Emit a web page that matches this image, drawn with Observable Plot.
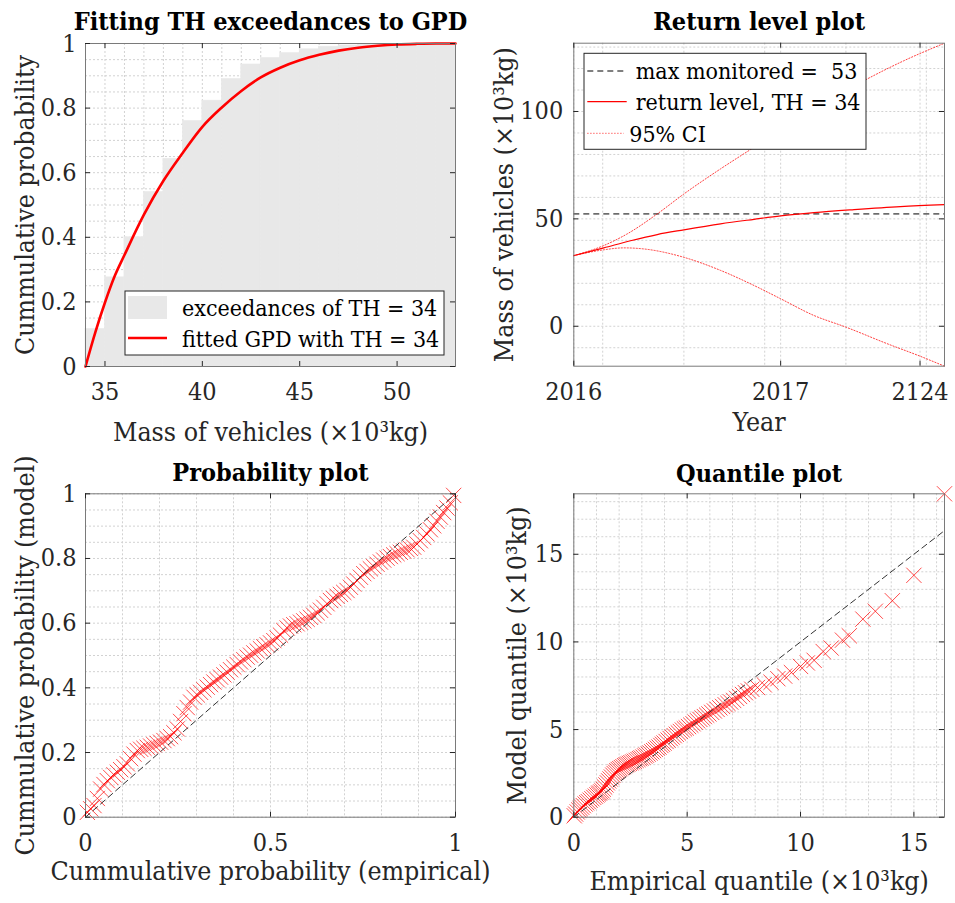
<!DOCTYPE html>
<html><head><meta charset="utf-8">
<script src="https://cdn.jsdelivr.net/npm/d3@7"></script>
<script src="https://cdn.jsdelivr.net/npm/@observablehq/plot@0.6"></script>
<style>
body{margin:0;background:#fff;}
#wrap{position:relative;width:955px;height:903px;overflow:hidden;}
#wrap svg{position:absolute;overflow:visible;}
</style></head><body><div id="wrap"></div>
<script>
// ---------------- Panel 1: exceedances / GPD fit ----------------
const massBinStart = [34,35,36,37,38,39,40,41,42,43,44,45,46,47,48,49,50,51,52];
const ecdfHeight   = [0.116,0.276,0.40,0.54,0.643,0.76,0.823,0.89,0.935,0.955,0.97,0.982,0.99,0.994,0.996,0.998,0.999,1,1];
const gpdMass = [34,34.5,35,35.5,36,37,38,39,40,41,42,43,44,45,46,47,48,49,50,51,52,53];
const gpdProb = [0,0.105,0.198,0.28,0.345,0.47,0.575,0.662,0.742,0.802,0.853,0.895,0.925,0.948,0.965,0.978,0.987,0.993,0.997,0.999,1.0,1.0];
const massTicks = [35,40,45,50];
const probTicks = [0,0.2,0.4,0.6,0.8,1];

// ---------------- Panel 2: return level ----------------
const periodTicks = [0,55.8,93.4];
const periodTickLabels = ["2016","2017","2124"];
const periodGrid = [7.8,29.7,51.5,73.4,95.1];
const levelTicks = [0,50,100];
const maxMonitored = 52.3;
const rlT     = [0,8.1,15.3,22.5,29.7,39.6,48.6,55.8,64.8,75.6,88.1,100];
const rlLevel = [32.9,36.5,39.8,42.7,44.9,47.7,49.8,51.4,52.9,54.3,55.7,56.6];
const ciUpT   = [0,8.1,14.4,22.5,29.7,39.6,48.6,62.1,79.1,89,100];
const ciUp    = [32.9,37.6,43.0,52.3,61.6,73.3,83.3,98.0,115.1,123.6,131.8];
const ciLoT   = [0,8.1,13.5,18.9,29.7,39.6,48.6,55.8,64.8,73.4,84.5,93.5,100];
const ciLo    = [32.9,35.6,36.5,36.0,32.1,26.0,19.0,12.8,5.0,-0.4,-8.1,-14.0,-18.6];

// ---------------- Panel 3: probability plot ----------------
const probEmp = [0.005,0.014,0.023,0.032,0.041,0.050,0.059,0.068,0.077,0.086,
0.095,0.104,0.113,0.122,0.131,0.140,0.149,0.158,0.167,0.176,
0.185,0.194,0.203,0.212,0.221,0.230,0.239,0.248,0.257,0.266,
0.275,0.284,0.293,0.302,0.311,0.320,0.329,0.338,0.347,0.356,
0.365,0.374,0.383,0.392,0.401,0.410,0.419,0.428,0.437,0.446,
0.455,0.464,0.473,0.482,0.491,0.500,0.509,0.518,0.527,0.536,
0.545,0.554,0.563,0.572,0.581,0.590,0.599,0.608,0.617,0.626,
0.635,0.644,0.653,0.662,0.671,0.680,0.689,0.698,0.707,0.716,
0.725,0.734,0.743,0.752,0.761,0.770,0.779,0.788,0.797,0.806,
0.815,0.824,0.833,0.842,0.851,0.860,0.869,0.878,0.887,0.896,
0.905,0.914,0.923,0.932,0.941,0.950,0.959,0.968,0.977,0.986,0.995];
const probModel = [0.015,0.026,0.036,0.058,0.087,0.101,0.113,0.123,0.131,0.139,
0.147,0.156,0.165,0.181,0.195,0.206,0.210,0.213,0.216,0.220,
0.224,0.228,0.232,0.237,0.243,0.249,0.261,0.273,0.296,0.320,
0.339,0.356,0.371,0.378,0.386,0.394,0.402,0.410,0.418,0.425,
0.433,0.440,0.448,0.456,0.464,0.472,0.480,0.487,0.495,0.501,
0.508,0.514,0.521,0.527,0.533,0.539,0.546,0.554,0.563,0.577,
0.585,0.591,0.595,0.598,0.603,0.607,0.612,0.618,0.624,0.632,
0.640,0.649,0.660,0.670,0.676,0.683,0.689,0.695,0.701,0.711,
0.721,0.732,0.742,0.753,0.760,0.768,0.775,0.782,0.789,0.795,
0.801,0.806,0.811,0.815,0.819,0.823,0.827,0.831,0.835,0.845,
0.855,0.865,0.876,0.889,0.901,0.915,0.928,0.942,0.956,0.972,0.995];
const probXTicks = [0,0.5,1];

// ---------------- Panel 4: quantile plot ----------------
const empQ = [0.02,0.08,0.15,0.22,0.28,0.35,0.42,0.5,0.57,0.64,0.72,0.8,0.88,0.95,
1.02,1.08,1.13,1.19,1.25,1.3,1.36,1.42,1.48,1.54,1.6,1.66,1.72,1.78,1.84,1.9,1.96,
2.03,2.1,2.17,2.24,2.31,2.38,2.45,2.52,2.6,2.67,2.75,2.83,2.9,2.97,
3.05,3.13,3.2,3.28,3.36,3.44,3.52,3.6,3.68,3.76,3.84,3.91,3.98,
4.07,4.16,4.25,4.34,4.43,4.52,4.61,4.7,4.79,4.88,4.96,
5.06,5.16,5.26,5.36,5.46,5.56,5.66,5.76,5.86,5.96,
6.08,6.2,6.32,6.44,6.56,6.68,6.8,6.92,
7.05,7.18,7.31,7.44,7.57,7.7,7.85,
8.1,8.4,8.7,9.0,9.3,9.6,10.0,10.3,10.6,11.0,11.35,11.85,12.15,12.75,13.3,14.05,15.0,16.35];
const modelQ = [0.08,0.18,0.3,0.41,0.49,0.57,0.66,0.75,0.82,0.89,0.97,1.05,1.13,1.2,
1.27,1.33,1.38,1.44,1.5,1.6,1.72,1.84,1.96,2.07,2.18,2.29,2.4,2.49,2.57,2.65,2.72,
2.77,2.83,2.88,2.94,2.99,3.03,3.07,3.11,3.15,3.19,3.24,3.29,3.34,3.38,
3.43,3.49,3.54,3.6,3.66,3.73,3.8,3.87,3.94,4.0,4.09,4.16,4.23,
4.32,4.4,4.49,4.57,4.65,4.73,4.81,4.89,4.97,5.04,5.09,
5.17,5.25,5.33,5.42,5.5,5.58,5.66,5.74,5.82,5.89,
5.98,6.06,6.15,6.24,6.32,6.41,6.49,6.57,
6.66,6.78,6.89,7.0,7.1,7.2,7.3,
7.4,7.55,7.7,7.9,8.05,8.25,8.6,8.8,8.95,9.45,9.65,10.1,10.35,11.3,11.75,12.35,13.8,18.45];
const quantTicks = [0,5,10,15];

// ---------------- helpers ----------------
const FONT = '"DejaVu Serif Condensed","DejaVu Serif",serif';
const RED = "#ff0000";
const gridStyle = {stroke:"#d2d2d2", strokeWidth:1, strokeDasharray:"2,2"};
const tickStyle = {stroke:"#262626", strokeWidth:1};
const markerStyle = {symbol: "times", r: 7, stroke: RED, strokeOpacity: 0.7, strokeWidth: 1};

function buildPanel(c) {
  const fw = c.W - c.m.left - c.m.right;
  const fh = c.H - c.m.top - c.m.bottom;
  const svg = Plot.plot({
    width: c.W, height: c.H,
    marginTop: c.m.top, marginRight: c.m.right, marginBottom: c.m.bottom, marginLeft: c.m.left,
    style: {fontFamily: FONT, fontSize: "25px", fontStretch: "condensed", color: "#262626", background: "transparent", overflow: "visible"},
    x: {domain: c.xDomain, ticks: c.xTicks, tickFormat: c.xFormat || (d => String(d)), tickSize: 0, tickPadding: 16, label: null},
    y: {domain: c.yDomain, ticks: c.yTicks, tickFormat: d => String(d), tickSize: 0, tickPadding: c.yPad, label: null},
    marks: [
      Plot.ruleX(c.xGrid, {x: d => d, ...gridStyle}),
      Plot.ruleY(c.yGrid, {y: d => d, ...gridStyle}),
      ...c.marks,
      Plot.frame({stroke: "#7a7a7a", strokeWidth: 1}),
      Plot.tickX(c.xTicks, {x: d => d, insetTop: fh - 5, ...tickStyle}),
      Plot.tickX(c.xTicks, {x: d => d, insetBottom: fh - 5, ...tickStyle}),
      Plot.tickY(c.yTicks, {y: d => d, insetRight: fw - 5, ...tickStyle}),
      Plot.tickY(c.yTicks, {y: d => d, insetLeft: fw - 5, ...tickStyle}),
      Plot.text([c.title], {text: d => d, frameAnchor: "top", textAnchor: "middle", lineAnchor: "middle", dy: c.titleDy, fontWeight: "bold", fontSize: 25, fill: "#000"}),
      Plot.text([c.xLabel], {text: d => d, frameAnchor: "bottom", textAnchor: "middle", lineAnchor: "middle", dy: c.xLabelDy, fontSize: 26.5, fill: "#262626"}),
      Plot.text([c.yLabel], {text: d => d, frameAnchor: "left", textAnchor: "middle", lineAnchor: "middle", rotate: -90, dx: c.yLabelDx, fontSize: 26.5, fill: "#262626"})
    ]
  });
  svg.style.left = c.x0 + "px";
  svg.style.top = c.y0 + "px";
  document.getElementById("wrap").appendChild(svg);
  return svg;
}
function legendGroup(svg) {
  return d3.select(svg).append("g")
    .attr("font-family", FONT).attr("font-size", 23)
    .attr("text-anchor", "start").style("font-stretch", "condensed");
}

// ---------------- Panel 1 ----------------
const bins = massBinStart.map((m, i) => ({lo: m, hi: m + 1, p: ecdfHeight[i]}));
const gpd = gpdMass.map((m, i) => ({m, p: gpdProb[i]}));
const svg1 = buildPanel({
  x0: 0, y0: 0, W: 477, H: 451, m: {top: 43, right: 22, bottom: 85, left: 85},
  xDomain: [34, 53], yDomain: [0, 1], xTicks: massTicks, yTicks: probTicks, yPad: 9,
  xGrid: d3.range(34, 54, 1), yGrid: d3.range(0, 1.001, 0.05),
  marks: [
    Plot.rect(bins, {x1: "lo", x2: "hi", y1: 0, y2: "p", fill: "#e8e8e8", stroke: "#e8e8e8", strokeWidth: 0.6}),
    Plot.line(gpd, {x: "m", y: "p", stroke: RED, strokeWidth: 2.6, curve: "monotone-x"})
  ],
  title: "Fitting TH exceedances to GPD", titleDy: -22,
  xLabel: "Mass of vehicles (×10³kg)", xLabelDy: 66.2,
  yLabel: "Cummulative probability", yLabelDx: -59.5
});
{
  const g = legendGroup(svg1);
  g.append("rect").attr("x", 125).attr("y", 291).attr("width", 319).attr("height", 64).attr("fill", "#fff").attr("stroke", "#262626");
  g.append("rect").attr("x", 128).attr("y", 296).attr("width", 39).attr("height", 23).attr("fill", "#e8e8e8");
  g.append("text").attr("x", 182).attr("y", 316).attr("fill", "#000").text("exceedances of TH = 34");
  g.append("line").attr("x1", 128).attr("x2", 167).attr("y1", 338).attr("y2", 338).attr("stroke", RED).attr("stroke-width", 2.6);
  g.append("text").attr("x", 182).attr("y", 346.7).attr("fill", "#000").text("fitted GPD with TH = 34");
}

// ---------------- Panel 2 ----------------
const rl = rlT.map((t, i) => ({t, v: rlLevel[i]}));
const up = ciUpT.map((t, i) => ({t, v: ciUp[i]}));
const lo = ciLoT.map((t, i) => ({t, v: ciLo[i]}));
const svg2 = buildPanel({
  x0: 477, y0: 0, W: 478, H: 451, m: {top: 42.7, right: 11, bottom: 85.3, left: 96.3},
  xDomain: [0, 100], yDomain: [-18.6, 131.8], xTicks: periodTicks, yTicks: levelTicks, yPad: 10.6,
  xFormat: d => periodTickLabels[periodTicks.indexOf(d)],
  xGrid: periodTicks.concat(periodGrid), yGrid: d3.range(-10, 131, 10),
  marks: [
    Plot.ruleY([maxMonitored], {y: d => d, stroke: "#000", strokeWidth: 1, strokeDasharray: "6,4"}),
    Plot.line(up, {x: "t", y: "v", stroke: RED, strokeOpacity: 0.75, strokeWidth: 1, strokeDasharray: "1.2,1.8", curve: "monotone-x"}),
    Plot.line(lo, {x: "t", y: "v", stroke: RED, strokeOpacity: 0.75, strokeWidth: 1, strokeDasharray: "1.2,1.8", curve: "monotone-x"}),
    Plot.line(rl, {x: "t", y: "v", stroke: RED, strokeWidth: 1.2, curve: "monotone-x"})
  ],
  title: "Return level plot", titleDy: -21.7,
  xLabel: "Year", xLabelDy: 56.5,
  yLabel: "Mass of vehicles (×10³kg)", yLabelDx: -69.1
});
{
  const g = legendGroup(svg2);
  g.append("rect").attr("x", 107).attr("y", 53.3).attr("width", 282).attr("height", 96).attr("fill", "#fff").attr("stroke", "#262626");
  g.append("line").attr("x1", 110.3).attr("x2", 149.7).attr("y1", 71).attr("y2", 71).attr("stroke", "#000").attr("stroke-dasharray", "6,4");
  g.append("text").attr("x", 158.7).attr("y", 79.3).attr("fill", "#000").style("white-space", "pre").text("max monitored =  53");
  g.append("line").attr("x1", 110.3).attr("x2", 149.7).attr("y1", 101.7).attr("y2", 101.7).attr("stroke", RED).attr("stroke-width", 1.2);
  g.append("text").attr("x", 158.7).attr("y", 110).attr("fill", "#000").text("return level, TH = 34");
  g.append("line").attr("x1", 110.3).attr("x2", 146.7).attr("y1", 133.3).attr("y2", 133.3).attr("stroke", RED).attr("stroke-opacity", 0.75).attr("stroke-dasharray", "1.2,1.8");
  g.append("text").attr("x", 152.3).attr("y", 141.7).attr("fill", "#000").text("95% CI");
}

// ---------------- Panel 3 ----------------
const pp = probEmp.map((e, i) => ({e, m: probModel[i]}));
const diag3 = [probXTicks[0], probXTicks[probXTicks.length - 1]].map(v => ({v}));
buildPanel({
  x0: 0, y0: 451, W: 477, H: 452, m: {top: 42.3, right: 22, bottom: 86.3, left: 85},
  xDomain: [0, 1], yDomain: [0, 1], xTicks: probXTicks, yTicks: probTicks, yPad: 9,
  xGrid: d3.range(0, 1.001, 0.1), yGrid: d3.range(0, 1.001, 0.05),
  marks: [
    Plot.dot(pp, {x: "e", y: "m", ...markerStyle}),
    Plot.line(diag3, {x: "v", y: "v", stroke: "#333", strokeWidth: 1, strokeDasharray: "6,4"})
  ],
  title: "Probability plot", titleDy: -20.6,
  xLabel: "Cummulative probability (empirical)", xLabelDy: 54.5,
  yLabel: "Cummulative probability (model)", yLabelDx: -60.2
});

// ---------------- Panel 4 ----------------
const qq = empQ.map((e, i) => ({e, m: modelQ[i]}));
const qMax = d3.max(empQ);
const diag4 = [{v: 0}, {v: qMax}];
buildPanel({
  x0: 477, y0: 451, W: 478, H: 452, m: {top: 42.3, right: 11, bottom: 86.3, left: 96.3},
  xDomain: [0, qMax], yDomain: [0, d3.max(modelQ)], xTicks: quantTicks, yTicks: quantTicks, yPad: 10.6,
  xGrid: d3.range(0, 17, 1), yGrid: d3.range(0, 19, 1),
  marks: [
    Plot.dot(qq, {x: "e", y: "m", ...markerStyle}),
    Plot.line(diag4, {x: "v", y: "v", stroke: "#333", strokeWidth: 1, strokeDasharray: "6,4"})
  ],
  title: "Quantile plot", titleDy: -19.6,
  xLabel: "Empirical quantile (×10³kg)", xLabelDy: 64.8,
  yLabel: "Model quantile (×10³kg)", yLabelDx: -55.8
});
</script></body></html>
